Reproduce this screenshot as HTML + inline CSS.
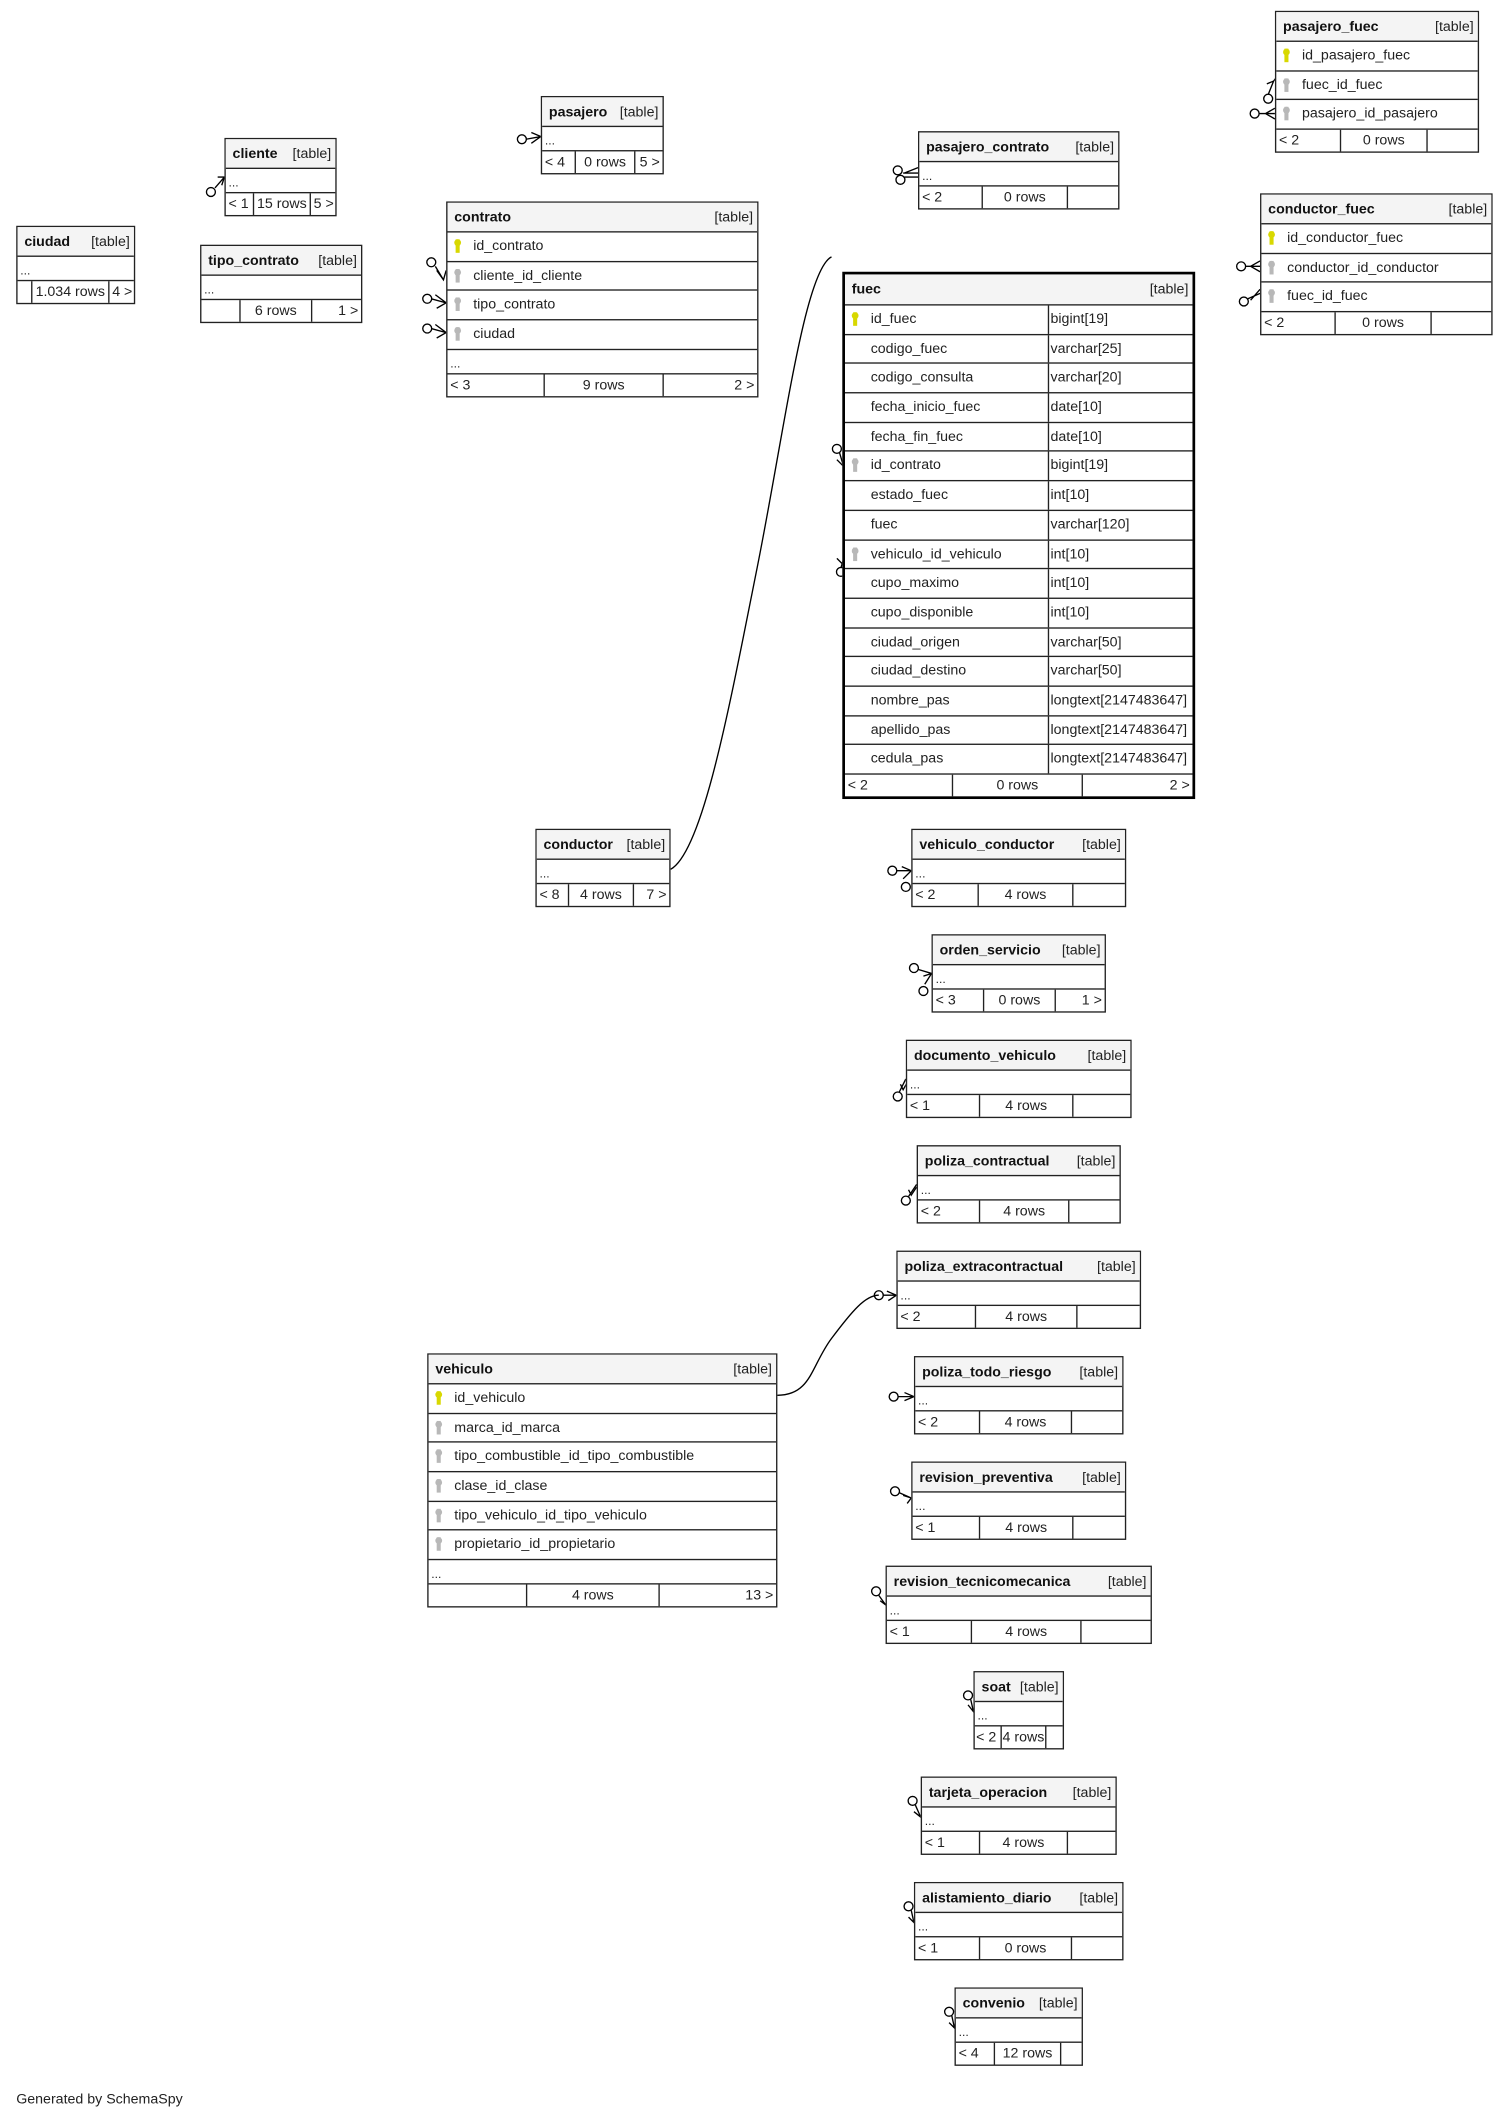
<!DOCTYPE html>
<html><head><meta charset="utf-8">
<style>
html,body{margin:0;padding:0;background:#fff;}
body{width:1509px;height:2121px;overflow:hidden;position:relative;}
#w{position:absolute;left:0;top:0;width:1110px;height:1560px;transform:scale(1.352);transform-origin:0 0;font-family:"Liberation Sans",sans-serif;font-size:10.5px;color:#222;}
.t{position:absolute;border:1px solid #222;background:#fff;box-sizing:border-box;}
.t.b{border:2.5px solid #000;}
.h{height:21px;line-height:22px;background:#f4f4f4;border-bottom:1px solid #222;display:flex;justify-content:space-between;padding:0 3px 0 5px;white-space:nowrap;}
.h b{font-weight:bold;color:#111;}
.r{height:20.7px;line-height:21px;border-bottom:1px solid #222;padding-left:19px;position:relative;white-space:nowrap;}
.r2{display:flex;height:20.7px;line-height:21px;border-bottom:1px solid #222;white-space:nowrap;}
.r2 .a{width:151px;border-right:1px solid #222;padding-left:19px;position:relative;box-sizing:border-box;}
.r2 .c{padding-left:1px;}
.d{height:17px;line-height:20px;border-bottom:1px solid #222;padding-left:2px;font-size:9px;}
.f{display:flex;height:16px;line-height:16px;white-space:nowrap;}
.f span{display:block;box-sizing:border-box;padding:0 2px;overflow:hidden;}
.f span.x{border-right:1px solid #222;}
.f span.m{text-align:center;}
.f span.e{flex:1;text-align:right;}
.k{position:absolute;left:6px;top:5px;width:3px;height:10px;}
.k:before{content:"";position:absolute;left:-1px;top:0;width:5px;height:5px;border-radius:50%;background:inherit;}
.pk{background:#d8d800;}
.fk{background:#b8b8b8;}
#s{position:absolute;left:0;top:0;}
.g{position:absolute;left:12px;top:1547px;font-size:10.5px;color:#222;}
</style></head><body><div id="w">

<svg id="s" width="1110" height="1560" viewBox="0 0 1110 1560" fill="none" stroke="#000" stroke-width="1">
<path d="M496,643 C520,630 540,520 560,420 C580,320 595,200 615,190"/>
<path d="M575,1032 C600,1032 600,1010 615,990 C630,970 640,958 650,958"/>
<g>
<circle cx="156" cy="142" r="3.3"/><path d="M159,139 L166,131 M161,131 L166,131 L164,137" />
<circle cx="386" cy="103" r="3.3"/><path d="M389,103 L400,101 M393,98 L400,101 L393,106"/>
<circle cx="319" cy="194" r="3.3"/><path d="M322,197 L328,207 M323,200 L328,207 L330,200"/>
<circle cx="316" cy="221" r="3.3"/><path d="M319,221 L330,224 M322,218 L330,224 L323,228"/>
<circle cx="316" cy="243" r="3.3"/><path d="M319,243 L330,246 M322,240 L330,246 L323,250"/>
<circle cx="664" cy="126" r="3.3"/><circle cx="666" cy="133" r="3.3"/><path d="M668,128 L679,128 M669,128 L679,124 M669,131 L679,131"/>
<circle cx="938" cy="73" r="3.3"/><path d="M938,70 L942,60 M937,62 L942,60 L945,56"/>
<circle cx="928" cy="84" r="3.3"/><path d="M931,84 L943,84 M936,84 L943,80 M936,84 L943,88"/>
<circle cx="918" cy="197" r="3.3"/><path d="M921,197 L932,197 M925,197 L932,193 M925,197 L932,201"/>
<circle cx="920" cy="223" r="3.3"/><path d="M923,221 L932,217 M925,222 L932,214"/>
<circle cx="619" cy="332" r="3.3"/><path d="M621,335 L624,345 M619,340 L624,345 L627,340"/>
<circle cx="622" cy="423" r="3.3"/><path d="M622,420 L625,410 M619,413 L624,418 L628,411"/>
<circle cx="660" cy="644" r="3.3"/><circle cx="670" cy="656" r="3.3"/><path d="M663,644 L674,644 M667,641 L674,644 L668,650"/>
<circle cx="676" cy="716" r="3.3"/><circle cx="683" cy="733" r="3.3"/><path d="M679,717 L689,720 M683,722 L689,720 L684,728"/>
<circle cx="664" cy="811" r="3.3"/><path d="M665,808 L670,798 M666,802 L668,806 L672,799"/>
<circle cx="670" cy="888" r="3.3"/><path d="M672,885 L678,876 M672,880 L674,884 L678,878"/>
<circle cx="650" cy="958" r="3.3"/><path d="M653,958 L663,958 M656,955 L663,958 L657,962"/>
<circle cx="661" cy="1033" r="3.3"/><path d="M664,1033 L676,1033 M669,1030 L676,1033 L669,1036"/>
<circle cx="662" cy="1103" r="3.3"/><path d="M665,1104 L674,1108 M668,1106 L674,1108 L671,1112"/>
<circle cx="648" cy="1177" r="3.3"/><path d="M650,1180 L655,1187 M651,1184 L655,1187 L657,1182"/>
<circle cx="716" cy="1254" r="3.3"/><path d="M718,1257 L720,1266 M716,1261 L720,1266 L722,1260"/>
<circle cx="675" cy="1332" r="3.3"/><path d="M677,1335 L681,1344 M676,1340 L681,1344 L683,1338"/>
<circle cx="672" cy="1410" r="3.3"/><path d="M674,1413 L676,1422 M672,1418 L676,1422 L678,1416"/>
<circle cx="702" cy="1488" r="3.3"/><path d="M704,1491 L706,1500 M702,1496 L706,1500 L708,1494"/>
</g>
</svg>

<div class="t" style="left:12px;top:167px;width:88px"><div class="h"><b>ciudad</b><span>[table]</span></div><div class="d">...</div><div class="f"><span class="x" style="width:11px"></span><span class="x m" style="width:57px">1.034 rows</span><span class="e">4 &gt;</span></div></div>

<div class="t" style="left:166px;top:102px;width:83px"><div class="h"><b>cliente</b><span>[table]</span></div><div class="d">...</div><div class="f"><span class="x" style="width:21px">&lt; 1</span><span class="x m" style="width:42px">15 rows</span><span class="e">5 &gt;</span></div></div>

<div class="t" style="left:148px;top:181px;width:120px"><div class="h"><b>tipo_contrato</b><span>[table]</span></div><div class="d">...</div><div class="f"><span class="x" style="width:29px"></span><span class="x m" style="width:53px">6 rows</span><span class="e">1 &gt;</span></div></div>

<div class="t" style="left:400px;top:71px;width:91px"><div class="h"><b>pasajero</b><span>[table]</span></div><div class="d">...</div><div class="f"><span class="x" style="width:25px">&lt; 4</span><span class="x m" style="width:44px">0 rows</span><span class="e">5 &gt;</span></div></div>

<div class="t" style="left:330px;top:149px;width:231px"><div class="h"><b>contrato</b><span>[table]</span></div>
<div class="r"><i class="k pk"></i>id_contrato</div>
<div class="r"><i class="k fk"></i>cliente_id_cliente</div>
<div class="r"><i class="k fk"></i>tipo_contrato</div>
<div class="r"><i class="k fk"></i>ciudad</div>
<div class="d">...</div><div class="f"><span class="x" style="width:72px">&lt; 3</span><span class="x m" style="width:88px">9 rows</span><span class="e">2 &gt;</span></div></div>

<div class="t" style="left:679px;top:97px;width:149px"><div class="h"><b>pasajero_contrato</b><span>[table]</span></div><div class="d">...</div><div class="f"><span class="x" style="width:47px">&lt; 2</span><span class="x m" style="width:63px">0 rows</span><span class="e"></span></div></div>

<div class="t" style="left:943px;top:8px;width:151px"><div class="h"><b>pasajero_fuec</b><span>[table]</span></div>
<div class="r"><i class="k pk"></i>id_pasajero_fuec</div>
<div class="r"><i class="k fk"></i>fuec_id_fuec</div>
<div class="r"><i class="k fk"></i>pasajero_id_pasajero</div>
<div class="f"><span class="x" style="width:48px">&lt; 2</span><span class="x m" style="width:64px">0 rows</span><span class="e"></span></div></div>

<div class="t" style="left:932px;top:143px;width:172px"><div class="h"><b>conductor_fuec</b><span>[table]</span></div>
<div class="r"><i class="k pk"></i>id_conductor_fuec</div>
<div class="r"><i class="k fk"></i>conductor_id_conductor</div>
<div class="r"><i class="k fk"></i>fuec_id_fuec</div>
<div class="f"><span class="x" style="width:55px">&lt; 2</span><span class="x m" style="width:71px">0 rows</span><span class="e"></span></div></div>

<div class="t b" style="left:623px;top:201px;width:261px"><div class="h" style="height:22px"><b>fuec</b><span>[table]</span></div>
<div class="r2"><div class="a"><i class="k pk"></i>id_fuec</div><div class="c">bigint[19]</div></div>
<div class="r2"><div class="a">codigo_fuec</div><div class="c">varchar[25]</div></div>
<div class="r2"><div class="a">codigo_consulta</div><div class="c">varchar[20]</div></div>
<div class="r2"><div class="a">fecha_inicio_fuec</div><div class="c">date[10]</div></div>
<div class="r2"><div class="a">fecha_fin_fuec</div><div class="c">date[10]</div></div>
<div class="r2"><div class="a"><i class="k fk"></i>id_contrato</div><div class="c">bigint[19]</div></div>
<div class="r2"><div class="a">estado_fuec</div><div class="c">int[10]</div></div>
<div class="r2"><div class="a">fuec</div><div class="c">varchar[120]</div></div>
<div class="r2"><div class="a"><i class="k fk"></i>vehiculo_id_vehiculo</div><div class="c">int[10]</div></div>
<div class="r2"><div class="a">cupo_maximo</div><div class="c">int[10]</div></div>
<div class="r2"><div class="a">cupo_disponible</div><div class="c">int[10]</div></div>
<div class="r2"><div class="a">ciudad_origen</div><div class="c">varchar[50]</div></div>
<div class="r2"><div class="a">ciudad_destino</div><div class="c">varchar[50]</div></div>
<div class="r2"><div class="a">nombre_pas</div><div class="c">longtext[2147483647]</div></div>
<div class="r2"><div class="a">apellido_pas</div><div class="c">longtext[2147483647]</div></div>
<div class="r2"><div class="a">cedula_pas</div><div class="c">longtext[2147483647]</div></div>
<div class="f"><span class="x" style="width:80px">&lt; 2</span><span class="x m" style="width:96px">0 rows</span><span class="e">2 &gt;</span></div></div>

<div class="t" style="left:396px;top:613px;width:100px"><div class="h"><b>conductor</b><span>[table]</span></div><div class="d">...</div><div class="f"><span class="x" style="width:24px">&lt; 8</span><span class="x m" style="width:48px">4 rows</span><span class="e">7 &gt;</span></div></div>

<div class="t" style="left:674px;top:613px;width:159px"><div class="h"><b>vehiculo_conductor</b><span>[table]</span></div><div class="d">...</div><div class="f"><span class="x" style="width:49px">&lt; 2</span><span class="x m" style="width:70px">4 rows</span><span class="e"></span></div></div>

<div class="t" style="left:689px;top:691px;width:129px"><div class="h"><b>orden_servicio</b><span>[table]</span></div><div class="d">...</div><div class="f"><span class="x" style="width:38px">&lt; 3</span><span class="x m" style="width:53px">0 rows</span><span class="e">1 &gt;</span></div></div>

<div class="t" style="left:670px;top:769px;width:167px"><div class="h"><b>documento_vehiculo</b><span>[table]</span></div><div class="d">...</div><div class="f"><span class="x" style="width:54px">&lt; 1</span><span class="x m" style="width:69px">4 rows</span><span class="e"></span></div></div>

<div class="t" style="left:678px;top:847px;width:151px"><div class="h"><b>poliza_contractual</b><span>[table]</span></div><div class="d">...</div><div class="f"><span class="x" style="width:46px">&lt; 2</span><span class="x m" style="width:66px">4 rows</span><span class="e"></span></div></div>

<div class="t" style="left:663px;top:925px;width:181px"><div class="h"><b>poliza_extracontractual</b><span>[table]</span></div><div class="d">...</div><div class="f"><span class="x" style="width:58px">&lt; 2</span><span class="x m" style="width:75px">4 rows</span><span class="e"></span></div></div>

<div class="t" style="left:676px;top:1003px;width:155px"><div class="h"><b>poliza_todo_riesgo</b><span>[table]</span></div><div class="d">...</div><div class="f"><span class="x" style="width:48px">&lt; 2</span><span class="x m" style="width:68px">4 rows</span><span class="e"></span></div></div>

<div class="t" style="left:674px;top:1081px;width:159px"><div class="h"><b>revision_preventiva</b><span>[table]</span></div><div class="d">...</div><div class="f"><span class="x" style="width:50px">&lt; 1</span><span class="x m" style="width:69px">4 rows</span><span class="e"></span></div></div>

<div class="t" style="left:655px;top:1158px;width:197px"><div class="h"><b>revision_tecnicomecanica</b><span>[table]</span></div><div class="d">...</div><div class="f"><span class="x" style="width:63px">&lt; 1</span><span class="x m" style="width:81px">4 rows</span><span class="e"></span></div></div>

<div class="t" style="left:720px;top:1236px;width:67px"><div class="h"><b>soat</b><span>[table]</span></div><div class="d">...</div><div class="f"><span class="x" style="width:20px;padding:0 1px">&lt; 2</span><span class="x m" style="width:33px;padding:0">4 rows</span><span class="e"></span></div></div>

<div class="t" style="left:681px;top:1314px;width:145px"><div class="h"><b>tarjeta_operacion</b><span>[table]</span></div><div class="d">...</div><div class="f"><span class="x" style="width:43px">&lt; 1</span><span class="x m" style="width:65px">4 rows</span><span class="e"></span></div></div>

<div class="t" style="left:676px;top:1392px;width:155px"><div class="h"><b>alistamiento_diario</b><span>[table]</span></div><div class="d">...</div><div class="f"><span class="x" style="width:48px">&lt; 1</span><span class="x m" style="width:68px">0 rows</span><span class="e"></span></div></div>

<div class="t" style="left:706px;top:1470px;width:95px"><div class="h"><b>convenio</b><span>[table]</span></div><div class="d">...</div><div class="f"><span class="x" style="width:29px">&lt; 4</span><span class="x m" style="width:49px">12 rows</span><span class="e"></span></div></div>

<div class="t" style="left:316px;top:1001px;width:259px"><div class="h"><b>vehiculo</b><span>[table]</span></div>
<div class="r"><i class="k pk"></i>id_vehiculo</div>
<div class="r"><i class="k fk"></i>marca_id_marca</div>
<div class="r"><i class="k fk"></i>tipo_combustible_id_tipo_combustible</div>
<div class="r"><i class="k fk"></i>clase_id_clase</div>
<div class="r"><i class="k fk"></i>tipo_vehiculo_id_tipo_vehiculo</div>
<div class="r"><i class="k fk"></i>propietario_id_propietario</div>
<div class="d">...</div><div class="f"><span class="x" style="width:73px"></span><span class="x m" style="width:98px">4 rows</span><span class="e">13 &gt;</span></div></div>

<div class="g">Generated by SchemaSpy</div>
</div></body></html>
